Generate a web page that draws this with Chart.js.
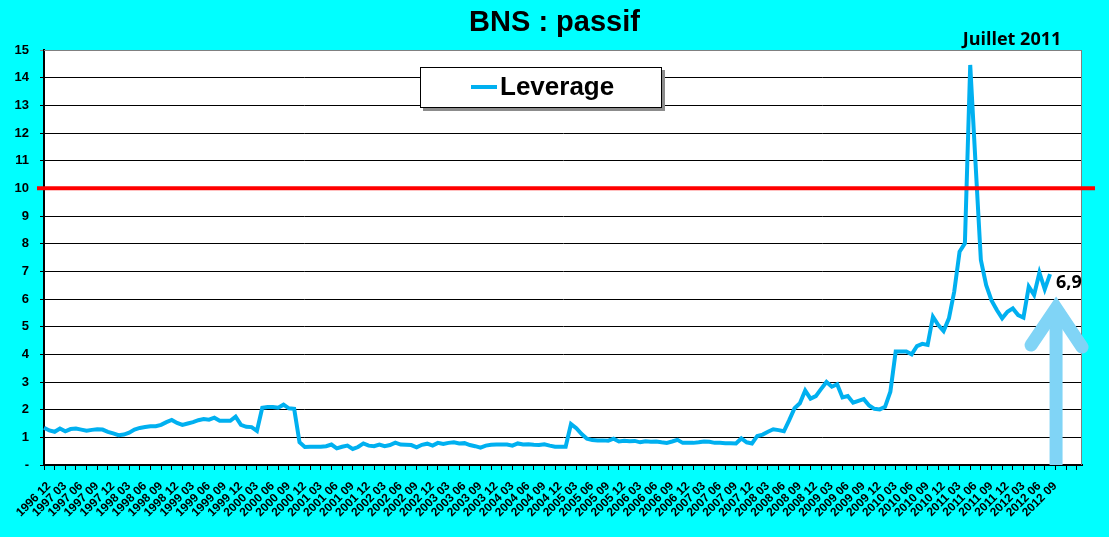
<!DOCTYPE html>
<html>
<head>
<meta charset="utf-8">
<script src="https://cdn.jsdelivr.net/npm/chart.js@4.4.0/dist/chart.umd.min.js"></script>
<style>
  html, body { margin: 0; padding: 0; background: #00ffff; }
  #wrap { width: 1109px; height: 537px; }
</style>
</head>
<body>
<div id="wrap"><canvas id="myChart" width="1109" height="537"></canvas></div>
<script>
// monthly leverage, 1996 12 -> 2012 09
var leverage = [
  1.35, 1.25, 1.2, 1.32, 1.22, 1.3, 1.32, 1.28, 1.24, 1.27, 1.29, 1.28,
  1.2, 1.14, 1.08, 1.1, 1.17, 1.28, 1.34, 1.37, 1.4, 1.4, 1.45, 1.55,
  1.63, 1.52, 1.45, 1.5, 1.55, 1.62, 1.66, 1.64, 1.71, 1.6, 1.6, 1.6,
  1.75, 1.45, 1.38, 1.37, 1.23, 2.07, 2.1, 2.1, 2.07, 2.18, 2.05, 2.03,
  0.82, 0.65, 0.66, 0.66, 0.66, 0.68, 0.74, 0.6, 0.66, 0.7, 0.58, 0.65,
  0.78, 0.7, 0.68, 0.74, 0.68, 0.72, 0.81, 0.74, 0.73, 0.72, 0.64, 0.73,
  0.77, 0.7, 0.8, 0.76, 0.8, 0.82, 0.78, 0.79, 0.72, 0.68, 0.63, 0.7,
  0.73, 0.74, 0.74, 0.74, 0.7, 0.78, 0.74, 0.75, 0.73, 0.72, 0.75, 0.7,
  0.66, 0.66, 0.66, 1.48, 1.33, 1.12, 0.95, 0.9, 0.89, 0.89, 0.88, 0.95,
  0.85, 0.88, 0.86, 0.87, 0.82, 0.86, 0.84, 0.85, 0.82, 0.8, 0.85, 0.91,
  0.8, 0.8, 0.8, 0.82, 0.85, 0.84, 0.8, 0.8, 0.79, 0.79, 0.78, 0.96,
  0.82, 0.78, 1.05, 1.1, 1.2, 1.29, 1.26, 1.22, 1.62, 2.05, 2.23, 2.69,
  2.4, 2.49, 2.75, 3.0, 2.83, 2.92, 2.44, 2.49, 2.25, 2.32, 2.38, 2.15,
  2.03, 2.01, 2.1, 2.65, 4.1, 4.1, 4.1, 4.0, 4.3, 4.38, 4.34, 5.36,
  5.06, 4.84, 5.3, 6.27, 7.71, 8.01, 14.46, 10.9, 7.41, 6.5, 5.95, 5.6,
  5.3, 5.54, 5.66, 5.42, 5.33, 6.45, 6.15, 6.95, 6.35, 6.9
];
var limitValue = 10;
var chartTitle = 'BNS : passif';
var lastLabel = '6,9';
var peakLabel = 'Juillet 2011';
var axisMonths = 196; // axis runs a few empty months past the data

var months = [];
for (var k = 0; k < axisMonths; k++) {
  var m = (11 + k) % 12 + 1;
  var yr = 1996 + Math.floor((11 + k) / 12);
  months.push(k < leverage.length ? yr + ' ' + (m < 10 ? '0' + m : m) : '');
}

var decor = {
  id: 'decor',
  beforeDraw: function (chart) {
    var c = chart.ctx, a = chart.chartArea;
    c.save();
    c.fillStyle = '#00ffff';
    c.fillRect(0, 0, chart.width, chart.height);
    c.fillStyle = '#ffffff';
    c.fillRect(a.left, a.top, a.right - a.left, a.bottom - a.top);
    c.restore();
  },
  afterDatasetsDraw: function (chart) {
    var c = chart.ctx, a = chart.chartArea;
    var xs = chart.scales.x, ys = chart.scales.y;
    c.save();
    // title
    c.fillStyle = '#000';
    c.font = 'bold 29px "Liberation Sans"';
    c.textAlign = 'center';
    c.textBaseline = 'middle';
    c.fillText(chartTitle, chart.width / 2, 23);

    // plot border right/top
    c.strokeStyle = '#808080';
    c.lineWidth = 1;
    c.beginPath();
    c.moveTo(a.left, a.top + 0.5);
    c.lineTo(a.right - 0.5, a.top + 0.5);
    c.lineTo(a.right - 0.5, a.bottom);
    c.stroke();

    // red limit line
    var ry = ys.getPixelForValue(limitValue);
    c.strokeStyle = '#ff0000';
    c.lineWidth = 4;
    c.beginPath();
    c.moveTo(a.left - 7, ry);
    c.lineTo(a.right + 13, ry);
    c.stroke();

    // arrow at the last point
    var li = leverage.length - 1;
    var ax = xs.getPixelForValue(li) + 6;
    var tip = ys.getPixelForValue(leverage[li]) + 20;
    c.fillStyle = '#80d4f6';
    c.strokeStyle = '#80d4f6';
    c.fillRect(ax - 6.5, tip + 20, 13, a.bottom - tip - 20);
    c.lineWidth = 13;
    c.lineCap = 'round';
    c.lineJoin = 'miter';
    c.beginPath();
    c.moveTo(ax - 25, tip + 51);
    c.lineTo(ax, tip + 14);
    c.lineTo(ax + 26, tip + 53);
    c.stroke();

    // value label
    c.fillStyle = '#000';
    c.font = 'bold 18px "Open Sans"';
    c.textAlign = 'left';
    c.textBaseline = 'middle';
    c.fillText(lastLabel, ax, ys.getPixelForValue(leverage[li]) + 9);

    // peak label
    c.textAlign = 'center';
    c.fillText(peakLabel, 1012, 40);

    // legend box
    c.fillStyle = '#8c8c8c';
    c.fillRect(423, 70, 242, 41);
    c.fillStyle = '#fff';
    c.fillRect(420, 67, 242, 41);
    c.strokeStyle = '#000';
    c.lineWidth = 1;
    c.strokeRect(420.5, 67.5, 241, 40);
    c.strokeStyle = '#00b0f0';
    c.lineWidth = 4;
    c.lineCap = 'butt';
    c.beginPath();
    c.moveTo(471, 87);
    c.lineTo(497, 87);
    c.stroke();
    c.fillStyle = '#000';
    c.font = 'bold 26px "Liberation Sans"';
    c.textAlign = 'left';
    c.fillText(chart.data.datasets[0].label, 500, 88);
    c.restore();
  }
};

var ctx = document.getElementById('myChart').getContext('2d');
var chart = new Chart(ctx, {
  type: 'line',
  data: {
    labels: months,
    datasets: [{
      label: 'Leverage',
      data: leverage,
      borderColor: '#00b0f0',
      borderWidth: 4,
      pointRadius: 0,
      tension: 0
    }]
  },
  options: {
    responsive: false,
    animation: false,
    devicePixelRatio: 1,
    layout: { padding: { left: 0, right: 27, top: 50, bottom: 0 } },
    plugins: {
      legend: { display: false },
      tooltip: { enabled: false },
      title: { display: false }
    },
    scales: {
      x: {
        offset: false,
        afterFit: function (scale) { scale.height = 72; },
        border: { display: true, color: '#000', width: 2 },
        grid: {
          drawOnChartArea: false,
          drawTicks: true,
          tickLength: 5,
          color: function (c) { return c.index % 2 === 0 ? '#000' : 'rgba(0,0,0,0)'; }
        },
        ticks: {
          autoSkip: false,
          maxRotation: 45,
          minRotation: 45,
          padding: 9,
          labelOffset: 5,
          color: '#000',
          font: { family: '"Liberation Sans"', size: 12, weight: 'bold' },
          callback: function (v, i) { return i % 3 === 0 ? this.getLabelForValue(v) : ''; }
        }
      },
      y: {
        min: 0,
        max: 15,
        afterFit: function (scale) { scale.width = 44; },
        border: { display: true, color: '#000', width: 2 },
        grid: {
          tickLength: 4,
          color: function (c) { return c.tick && c.tick.value === 15 ? '#808080' : '#000'; }
        },
        ticks: {
          stepSize: 1,
          padding: 11,
          color: '#000',
          font: { family: '"Liberation Sans"', size: 13, weight: 'bold' },
          callback: function (v) { return v === 0 ? '-' : v; }
        }
      }
    }
  },
  plugins: [decor]
});
</script>
</body>
</html>
